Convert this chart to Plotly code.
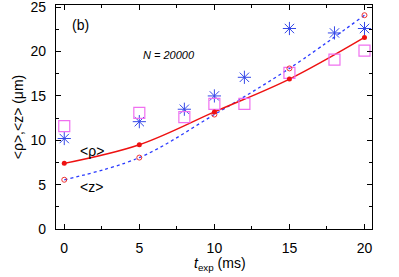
import plotly.graph_objects as go

t_fit = [0, 5, 10, 15, 20]
rho_fit = [7.4, 9.5, 13.2, 16.9, 21.6]
z_fit = [5.55, 8.05, 12.9, 18.1, 24.1]

t_exp = [0, 5, 8, 10, 12, 15, 18, 20]
rho_exp = [11.6, 13.1, 12.6, 14.1, 14.1, 17.6, 19.1, 20.1]
z_exp = [10.2, 12.1, 13.5, 15.0, 17.1, 22.6, 22.1, 22.6]

x_ticks = [0, 5, 10, 15, 20]
y_ticks = [0, 5, 10, 15, 20, 25]

FONT = "Liberation Sans, Arial, sans-serif"
fig = go.Figure()

fig.add_trace(go.Scatter(x=t_fit, y=z_fit, mode="lines", line=dict(color="#2b3bff", width=1.3, dash="dot", shape="spline"), showlegend=False))
fig.add_trace(go.Scatter(x=t_fit, y=rho_fit, mode="lines", line=dict(color="#ee1111", width=1.4, shape="spline"), showlegend=False))
fig.add_trace(go.Scatter(x=t_exp, y=z_exp, mode="markers", marker=dict(symbol="asterisk-open", size=11, color="#3548e8", line=dict(color="#3548e8", width=1)), showlegend=False))
fig.add_trace(go.Scatter(x=t_exp, y=rho_exp, mode="markers", marker=dict(symbol="square-open", size=11, color="#f070f0", line=dict(color="#f070f0", width=1.2)), showlegend=False))
fig.add_trace(go.Scatter(x=t_fit, y=z_fit, mode="markers", marker=dict(symbol="circle-open", size=5, color="#ee3333", line=dict(color="#ee3333", width=1)), showlegend=False))
fig.add_trace(go.Scatter(x=t_fit, y=rho_fit, mode="markers", marker=dict(symbol="circle", size=5, color="#ee1111"), showlegend=False))

axis_common = dict(showgrid=False, zeroline=False, showline=True, linecolor="black", linewidth=1.2,
                   mirror="allticks", ticks="inside", ticklen=5, tickcolor="black",
                   ticklabeloverflow="allow", automargin=False,
                   tickfont=dict(family=FONT, size=14, color="black"),
                   minor=dict(ticks="inside", ticklen=3, tickcolor="black", dtick=2.5))
fig.update_xaxes(range=[-0.55, 20.5], tickvals=x_ticks, ticklabelstandoff=6, **axis_common)
fig.update_yaxes(range=[0, 25.25], tickvals=y_ticks, ticklabelstandoff=6, **axis_common,
                 title=dict(text="&lt;ρ&gt;,&lt;z&gt; (μm)", font=dict(family=FONT, size=14, color="black"), standoff=3))

fig.add_annotation(x=10.35, xref="x", y=-0.158, yref="paper", yanchor="middle",
                   text="<i>t</i><sub>exp</sub> (ms)", showarrow=False,
                   font=dict(family=FONT, size=14, color="black"))
fig.add_annotation(x=0.35, y=23.0, text="(b)", showarrow=False, xanchor="left", font=dict(family=FONT, size=14, color="black"))
fig.add_annotation(x=5.1, y=19.6, text="<i>N = 20000</i>", showarrow=False, xanchor="left", font=dict(family=FONT, size=11, color="black"))
fig.add_annotation(x=0.9, y=8.8, text="&lt;ρ&gt;", showarrow=False, xanchor="left", font=dict(family=FONT, size=14, color="black"))
fig.add_annotation(x=0.9, y=4.7, text="&lt;z&gt;", showarrow=False, xanchor="left", font=dict(family=FONT, size=14, color="black"))

fig.update_layout(width=399, height=277, margin=dict(l=56, r=27, t=5, b=48),
                  plot_bgcolor="white", paper_bgcolor="white")
fig.write_html("out.html", config={"displayModeBar": False},
               post_script="document.body.style.margin='0';document.body.style.padding='0';")
